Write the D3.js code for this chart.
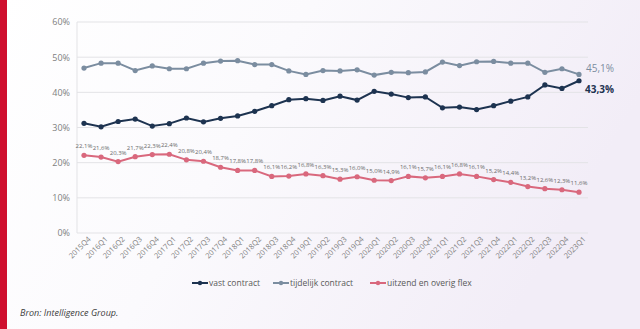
<!DOCTYPE html>
<html>
<head>
<meta charset="utf-8">
<script src="https://cdn.jsdelivr.net/npm/d3@7"></script>
<style>
    body { margin: 0; padding: 0; overflow: hidden; }
    svg { display: block; }
</style>
</head>
<body>
<div id="chart"></div>
<script>
// quarters on the x axis
let QUARTERS = ["2015Q4",
    "2016Q1", "2016Q2", "2016Q3", "2016Q4",
    "2017Q1", "2017Q2", "2017Q3", "2017Q4",
    "2018Q1", "2018Q2", "2018Q3", "2018Q4",
    "2019Q1", "2019Q2", "2019Q3", "2019Q4",
    "2020Q1", "2020Q2", "2020Q3", "2020Q4",
    "2021Q1", "2021Q2", "2021Q3", "2021Q4",
    "2022Q1", "2022Q2", "2022Q3", "2022Q4",
    "2023Q1"]

// share of employees per contract type (%)
let VAST = [31.2, 30.2, 31.7, 32.4, 30.4, 31.1, 32.7, 31.6, 32.6, 33.3,
    34.6, 36.2, 37.9, 38.2, 37.7, 38.9, 37.8, 40.3, 39.5, 38.5,
    38.7, 35.6, 35.8, 35.1, 36.2, 37.5, 38.7, 42.1, 41.1, 43.3]
let TIJDELIJK = [46.9, 48.3, 48.3, 46.2, 47.5, 46.7, 46.7, 48.3, 48.9, 49.0,
    47.9, 47.9, 46.1, 45.1, 46.2, 46.1, 46.4, 44.9, 45.7, 45.6,
    45.8, 48.6, 47.6, 48.7, 48.8, 48.3, 48.3, 45.7, 46.7, 45.1]
let FLEX = [22.1, 21.6, 20.3, 21.7, 22.3, 22.4, 20.8, 20.4, 18.7, 17.8,
    17.8, 16.1, 16.2, 16.8, 16.3, 15.3, 16.0, 15.0, 14.9, 16.1,
    15.7, 16.1, 16.8, 16.1, 15.2, 14.4, 13.2, 12.6, 12.3, 11.6]

let Y_TICKS = [0, 10, 20, 30, 40, 50, 60]
let SERIES_NAMES = ["vast contract", "tijdelijk contract", "uitzend en overig flex"]
let SERIES_COLORS = ["#1d3350", "#7b8da0", "#d9687d"]

let width = 640,
    height = 329;

let fmt = function (v) { return d3.format(".1f")(v).replace(".", ",") + "%" }

let svg = d3.select("#chart")
    .append("svg")
    .attr("width", width)
    .attr("height", height)

// soft background wash
let defs = svg.append("defs")
let grad = defs.append("linearGradient")
    .attr("id", "bg")
    .attr("x1", "0%").attr("y1", "0%")
    .attr("x2", "100%").attr("y2", "30%")
grad.append("stop").attr("offset", "0%").attr("stop-color", "#ffffff")
grad.append("stop").attr("offset", "45%").attr("stop-color", "#fbfafd")
grad.append("stop").attr("offset", "100%").attr("stop-color", "#f2edf7")

svg.append("rect")
    .attr("width", width)
    .attr("height", height)
    .attr("fill", "url(#bg)")

// red brand strip on the left
svg.append("rect")
    .attr("x", 0)
    .attr("y", 0)
    .attr("width", 7)
    .attr("height", height)
    .attr("fill", "#cf0f2e")

// scales
let x = d3.scalePoint()
    .domain(QUARTERS)
    .range([84, 579])

let y = d3.scaleLinear()
    .domain([0, 60])
    .range([233, 22])

// gridlines
svg.append("g")
    .selectAll("line")
    .data(Y_TICKS)
    .enter()
    .append("line")
    .attr("x1", 77)
    .attr("x2", 588)
    .attr("y1", function (d) { return y(d) })
    .attr("y2", function (d) { return y(d) })
    .attr("stroke", "#e3e3e6")
    .attr("stroke-width", 1)

// left axis line
svg.append("line")
    .attr("x1", 77)
    .attr("x2", 77)
    .attr("y1", y(60))
    .attr("y2", y(0))
    .attr("stroke", "#e3e3e6")

// y axis labels
let yAxis = svg.append("g")
    .attr("transform", "translate(70,0)")
    .call(d3.axisLeft(y).tickValues(Y_TICKS).tickSize(0).tickFormat(function (d) { return d + "%" }))
yAxis.select(".domain").remove()
yAxis.selectAll("text")
    .attr("x", 0)
    .style("font-family", "'Open Sans', sans-serif")
    .style("font-size", "9px")
    .style("fill", "#7f7f7f")

// x axis labels, rotated
let xAxis = svg.append("g")
    .attr("transform", "translate(0," + 236 + ")")
    .call(d3.axisBottom(x).tickSize(0))
xAxis.select(".domain").remove()
xAxis.selectAll("text")
    .attr("y", 0)
    .attr("x", 0)
    .attr("dy", "0.7em")
    .attr("transform", "translate(3,0) rotate(-45)")
    .style("text-anchor", "end")
    .style("font-family", "'Open Sans', sans-serif")
    .style("font-size", "7.5px")
    .style("fill", "#7f7f7f")

let dataReady = [VAST, TIJDELIJK, FLEX].map(function (values, i) {
    return {
        name: SERIES_NAMES[i],
        color: SERIES_COLORS[i],
        values: values.map(function (v, j) { return { time: QUARTERS[j], value: v } })
    }
})

let line = d3.line()
    .x(function (d) { return x(d.time) })
    .y(function (d) { return y(d.value) })

// lines
svg.selectAll("myLines")
    .data(dataReady)
    .enter()
    .append("path")
    .attr("d", function (d) { return line(d.values) })
    .attr("stroke", function (d) { return d.color })
    .attr("stroke-width", 2)
    .attr("fill", "none")

// markers
svg.selectAll("myDots")
    .data(dataReady)
    .enter()
    .append("g")
    .style("fill", function (d) { return d.color })
    .selectAll("circle")
    .data(function (d) { return d.values })
    .enter()
    .append("circle")
    .attr("cx", function (d) { return x(d.time) })
    .attr("cy", function (d) { return y(d.value) })
    .attr("r", 2.6)

// value labels above the flex series
svg.append("g")
    .selectAll("text")
    .data(dataReady[2].values)
    .enter()
    .append("text")
    .attr("x", function (d) { return x(d.time) })
    .attr("y", function (d) { return y(d.value) - 7 })
    .attr("text-anchor", "middle")
    .text(function (d) { return fmt(d.value) })
    .style("font-family", "'Open Sans', sans-serif")
    .style("font-size", "6px")
    .style("fill", "#6b6b6b")

// end labels for the two contract series
let last = QUARTERS[QUARTERS.length - 1]
svg.append("text")
    .attr("x", x(last) + 7)
    .attr("y", y(TIJDELIJK[TIJDELIJK.length - 1]) - 2)
    .text(fmt(TIJDELIJK[TIJDELIJK.length - 1]))
    .style("font-family", "'Open Sans', sans-serif")
    .style("font-size", "10px")
    .style("fill", "#7b8da0")
svg.append("text")
    .attr("x", x(last) + 6)
    .attr("y", y(VAST[VAST.length - 1]) + 12)
    .text(fmt(VAST[VAST.length - 1]))
    .style("font-family", "'Open Sans', sans-serif")
    .style("font-size", "10px")
    .style("font-weight", "bold")
    .style("fill", "#1d3350")

// legend
let legendX = [192, 273, 370]
let legend = svg.append("g")
    .selectAll("g")
    .data(dataReady)
    .enter()
    .append("g")
    .attr("transform", function (d, i) { return "translate(" + legendX[i] + ",283)" })
legend.append("line")
    .attr("x1", 0)
    .attr("x2", 16)
    .attr("stroke", function (d) { return d.color })
    .attr("stroke-width", 2)
legend.append("circle")
    .attr("cx", 8)
    .attr("r", 2.2)
    .attr("fill", function (d) { return d.color })
legend.append("text")
    .attr("x", 17)
    .attr("dy", "0.35em")
    .text(function (d) { return d.name })
    .style("font-family", "'Open Sans', sans-serif")
    .style("font-size", "8.5px")
    .style("fill", "#595959")

// source note
svg.append("text")
    .attr("x", 20)
    .attr("y", 316)
    .text("Bron: Intelligence Group.")
    .style("font-family", "'Open Sans', sans-serif")
    .style("font-size", "9px")
    .style("font-style", "italic")
    .style("fill", "#404040")
</script>
</body>
</html>
